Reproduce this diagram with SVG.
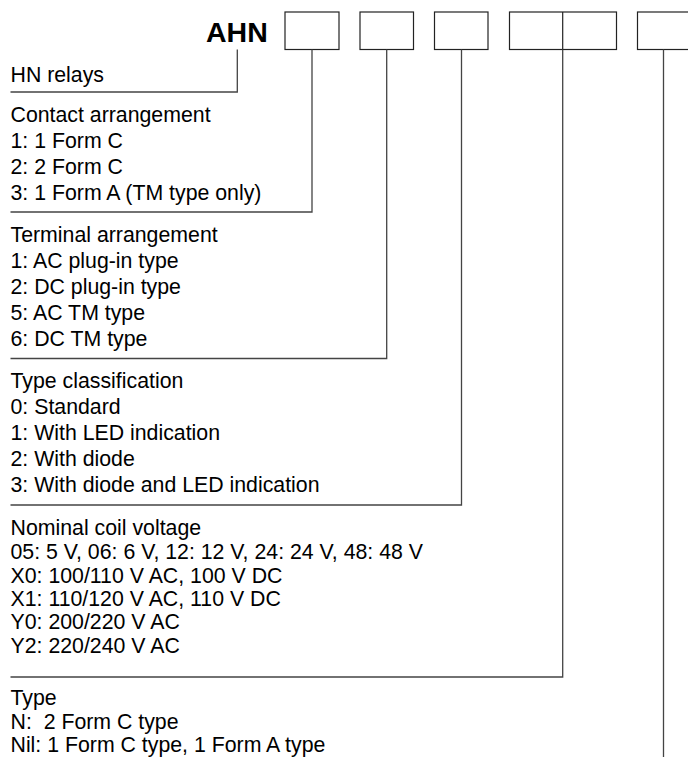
<svg xmlns="http://www.w3.org/2000/svg" width="688" height="767" viewBox="0 0 688 767">
<style>
text{font-family:"Liberation Sans",Arial,sans-serif;font-size:21.3px;fill:#000}
.title{font-weight:bold;font-size:28.5px}
.box{fill:#fff;stroke:#222;stroke-width:1.2}
.conn{fill:none;stroke:#444;stroke-width:1.3}
</style>
<rect width="688" height="767" fill="#fff"/>
<g id="code">
<text class="title" x="206" y="41.7">AHN</text>
<rect class="box" x="285" y="12" width="54" height="37.5"/>
<rect class="box" x="360" y="12" width="53.5" height="37.5"/>
<rect class="box" x="434.5" y="12" width="53.5" height="37.5"/>
<rect class="box" x="509.5" y="12" width="107" height="37.5"/>
<line class="box" x1="562.7" y1="12" x2="562.7" y2="49.5"/>
<rect class="box" x="637.5" y="12" width="60" height="37.5"/>
</g>
<g id="connectors">
<polyline class="conn" points="237.3,49.5 237.3,92 10.5,92"/>
<polyline class="conn" points="312,49.5 312,212 10.5,212"/>
<polyline class="conn" points="386.7,49.5 386.7,358.5 10.5,358.5"/>
<polyline class="conn" points="461.5,49.5 461.5,505 10.5,505"/>
<polyline class="conn" points="562.7,49.5 562.7,677 10.5,677"/>
<polyline class="conn" points="663.5,49.5 663.5,757"/>
</g>
<g id="hn-relays">
<text x="10.5" y="81.5">HN relays</text>
</g>
<g id="contact-arrangement">
<text x="10.5" y="121.5">Contact arrangement</text>
<text x="10.5" y="147.5">1: 1 Form C</text>
<text x="10.5" y="173.5">2: 2 Form C</text>
<text x="10.5" y="199.5">3: 1 Form A (TM type only)</text>
</g>
<g id="terminal-arrangement">
<text x="10.5" y="242">Terminal arrangement</text>
<text x="10.5" y="268">1: AC plug-in type</text>
<text x="10.5" y="294">2: DC plug-in type</text>
<text x="10.5" y="320">5: AC TM type</text>
<text x="10.5" y="346">6: DC TM type</text>
</g>
<g id="type-classification">
<text x="10.5" y="388">Type classification</text>
<text x="10.5" y="414">0: Standard</text>
<text x="10.5" y="440">1: With LED indication</text>
<text x="10.5" y="466">2: With diode</text>
<text x="10.5" y="492">3: With diode and LED indication</text>
</g>
<g id="nominal-coil-voltage">
<text x="10.5" y="535">Nominal coil voltage</text>
<text x="10.5" y="559">05: 5 V, 06: 6 V, 12: 12 V, 24: 24 V, 48: 48 V</text>
<text x="10.5" y="583">X0: 100/110 V AC, 100 V DC</text>
<text x="10.5" y="606">X1: 110/120 V AC, 110 V DC</text>
<text x="10.5" y="629">Y0: 200/220 V AC</text>
<text x="10.5" y="653">Y2: 220/240 V AC</text>
</g>
<g id="type">
<text x="10.5" y="705">Type</text>
<text x="10.5" y="728.5" xml:space="preserve">N:  2 Form C type</text>
<text x="10.5" y="752">Nil: 1 Form C type, 1 Form A type</text>
</g>
</svg>
